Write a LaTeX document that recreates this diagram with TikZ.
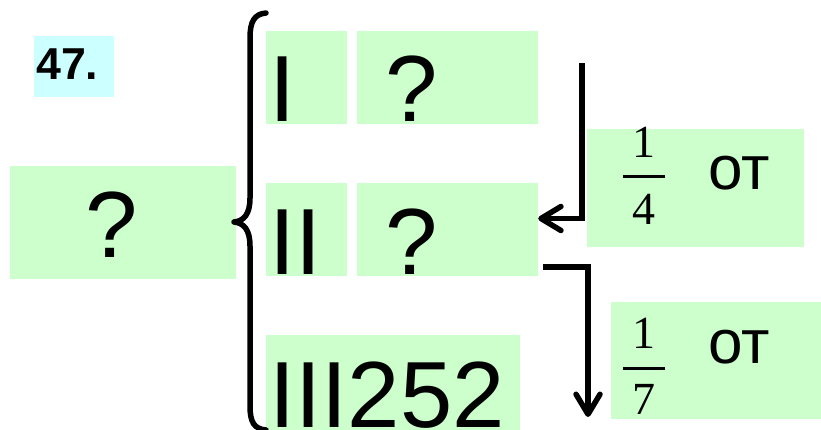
\documentclass[tikz,border=0pt]{standalone}
\usepackage{fontspec}
\setmainfont{Liberation Sans}
\newfontfamily\serifnum{Liberation Serif}
\usetikzlibrary{arrows.meta,calc}
\definecolor{lgreen}{HTML}{CCFFCC}
\definecolor{lcyan}{HTML}{CCFFFF}
\newcommand\myfrac[4]{\vbox{\offinterlineskip\hbox to 42pt{\hss #1\hss}\kern #3\hrule height 3pt\kern #4\hbox to 42pt{\hss #2\hss}}}
\begin{document}
\begin{tikzpicture}[x=1pt,y=-1pt,
  gbox/.style={fill=lgreen,draw=none,inner sep=0},
  cbox/.style={fill=lcyan,draw=none,inner sep=0},
  bigtxt/.style={anchor=base west,inner sep=0,font=\fontsize{94}{94}\selectfont},
  ottxt/.style={anchor=base west,inner sep=0,font=\fontsize{62}{62}\selectfont},
  fracnode/.style={anchor=north,inner sep=0,font=\serifnum\fontsize{46}{46}\selectfont},
  bracestroke/.style={line width=5.5pt,line cap=round,line join=round},
  arr/.style={line width=5.5pt,-{Straight Barb[length=20pt,width=24pt,line cap=round,line join=round]}}]
\useasboundingbox (0,0) rectangle (821,430);
% boxes
\node[cbox,minimum width=80pt,minimum height=61pt] (numbox) at (74,66.5) {};
\node[gbox,minimum width=226pt,minimum height=113pt] (whole) at (123,222.5) {};
\node[gbox,minimum width=81pt,minimum height=93pt] (r1) at (306.5,77.5) {};
\node[gbox,minimum width=181pt,minimum height=93pt] (q1) at (447.5,77.5) {};
\node[gbox,minimum width=81pt,minimum height=93pt] (r2) at (306.5,229.5) {};
\node[gbox,minimum width=181pt,minimum height=93pt] (q2) at (447.5,229.5) {};
\node[gbox,minimum width=254pt,minimum height=95pt] (r3) at (393,382.5) {};
\node[gbox,minimum width=217pt,minimum height=118pt] (f1box) at (695.5,188) {};
\node[gbox,minimum width=210pt,minimum height=117pt] (f2box) at (716,360.5) {};
% texts
\node[anchor=base west,inner sep=0,font=\bfseries\fontsize{44.7}{44.7}\selectfont] (num) at (36,80) {47.};
\node[bigtxt] (tw) at (85.5,257) {?};
\node[bigtxt] (t1) at (269.3,122) {I};
\node[bigtxt] (tq1) at (385.5,122) {?};
\node[bigtxt] (t2) at (269.3,274) {II};
\node[bigtxt] (tq2) at (385.5,274) {?};
\node[bigtxt] (t3) at (269.3,427) {III252};
\node[fracnode] (fr1) at (643.5,127) {\myfrac{1}{4}{17pt}{17pt}};
\node[ottxt] (ot1) at (708,190) {от};
\node[fracnode] (fr2) at (643.5,318) {\myfrac{1}{7}{18pt}{15pt}};
\node[ottxt] (ot2) at (708,363) {от};
% brace
\draw[bracestroke] (266,13) .. controls (254,14) and (250,22) .. (250,38) -- (250,198)
  .. controls (250,214) and (244,221) .. (234,222)
  .. controls (244,223) and (250,230) .. (250,246) -- (250,406)
  .. controls (250,422) and (254,429) .. (266,430);
% arrows
\coordinate (a1s) at (582,63);
\coordinate (a2e) at (588,417);
\draw[arr] (a1s) |- ($(q2.east)+(0,-11)$);
\draw[arr] ($(q2.south east)+(5,-9)$) -| (a2e);
\end{tikzpicture}
\end{document}
